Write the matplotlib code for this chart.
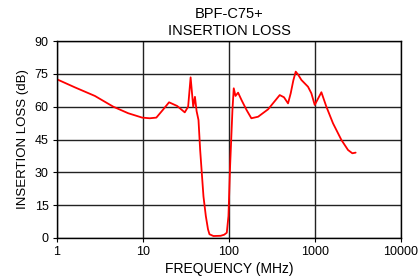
import matplotlib
matplotlib.use("Agg")
import matplotlib.pyplot as plt
from matplotlib.ticker import FixedLocator, NullLocator

plt.rcParams['font.family'] = ['Liberation Sans', 'DejaVu Sans']

freq_mhz = [1, 1.62, 2.76, 4.51, 6.73, 9.79, 12.0, 14.3, 17, 20.1, 25, 30.6, 33.5,
            35.8, 37.2, 38.4, 40.2, 42, 44.2, 46.2, 50.5, 53.8, 57, 59.3, 66, 80,
            88, 94.3, 98.6, 103, 109.7, 113.6, 119, 127.6, 140, 160, 182, 218,
            285, 389, 436, 486, 522, 560, 597, 640, 695, 830, 908, 993, 1080,
            1187, 1356, 1620, 2028, 2422, 2719, 2970]
loss_db = [72.5, 68.8, 64.9, 60.0, 57.0, 55.0, 54.7, 55.0, 58.5, 62.0, 60.3, 57.4,
           60.0, 73.4, 66.0, 60.0, 64.5, 58.0, 53.9, 40.3, 19.0, 10.0, 4.0, 1.7,
           0.9, 1.0, 1.5, 2.4, 10.0, 32.7, 58.5, 68.4, 64.9, 66.4, 63.0, 58.5,
           54.7, 55.4, 58.8, 65.3, 64.3, 61.5, 66.1, 72.0, 76.0, 74.5, 72.2, 69.1,
           66.1, 60.8, 63.5, 66.6, 60.0, 52.4, 44.8, 40.2, 38.7, 39.0]

x_ticks = [1, 10, 100, 1000, 10000]
x_tick_labels = ['1', '10', '100', '1000', '10000']
y_ticks = [0, 15, 30, 45, 60, 75, 90]

fig = plt.figure(figsize=(4.19, 2.79), dpi=100)
ax = fig.add_axes([0.136, 0.147, 0.821, 0.706])

ax.set_xscale('log')
ax.set_xlim(1, 10000)
ax.set_ylim(0, 90)
ax.xaxis.set_major_locator(FixedLocator(x_ticks))
ax.xaxis.set_minor_locator(NullLocator())
ax.set_xticklabels(x_tick_labels)
ax.set_yticks(y_ticks)

ax.grid(True, which='major', color='#222222', linewidth=1.0)
ax.set_axisbelow(True)
for s in ax.spines.values():
    s.set_color('black')
    s.set_linewidth(1.0)

ax.plot(freq_mhz, loss_db, color='#ff0000', linewidth=1.3,
        solid_joinstyle='round', solid_capstyle='round')

ax.tick_params(axis='both', labelsize=9, length=3, color='black', pad=3)
ax.set_xlabel('FREQUENCY (MHz)', fontsize=10, labelpad=3)
ax.set_ylabel('INSERTION LOSS (dB)', fontsize=9.5, labelpad=4)
ax.set_title('BPF-C75+\nINSERTION LOSS', fontsize=10.5, linespacing=1.3, pad=4)

fig.savefig('out.png', dpi=100)
